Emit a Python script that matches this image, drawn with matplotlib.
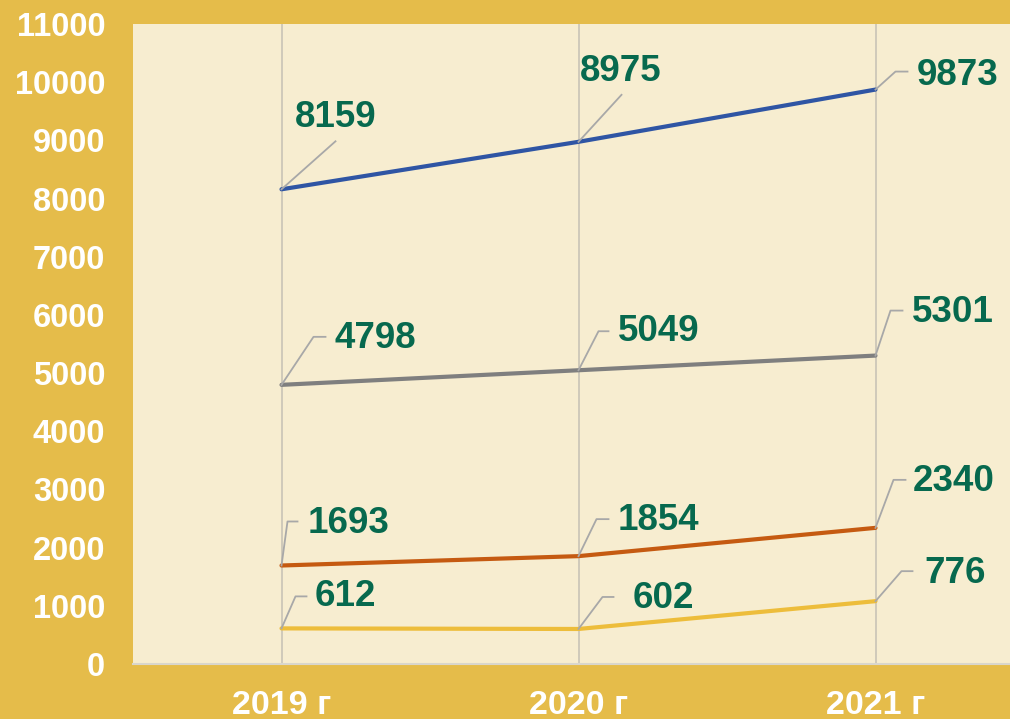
import matplotlib
matplotlib.use("Agg")
import matplotlib.pyplot as plt

years = ["2019 г", "2020 г", "2021 г"]
y_ticks = [0, 1000, 2000, 3000, 4000, 5000, 6000, 7000, 8000, 9000, 10000, 11000]

blue_values = [8159, 8975, 9873]
gray_values = [4798, 5049, 5301]
orange_values = [1693, 1854, 2340]
# yellow line as drawn in the picture (2021 point sits near 1080)
yellow_values = [612, 602, 1080]

blue_labels = ["8159", "8975", "9873"]
gray_labels = ["4798", "5049", "5301"]
orange_labels = ["1693", "1854", "2340"]
yellow_labels = ["612", "602", "776"]

plt.rcParams['font.family'] = ['Liberation Sans', 'DejaVu Sans']

W, H = 1010, 719
fig = plt.figure(figsize=(W / 100, H / 100), dpi=100)
fig.patch.set_facecolor("#E5BC4A")

left_px, top_px, bottom_px = 133, 24, 664
x_step = 297.0
ax_w_px = 3 * x_step
ax = fig.add_axes([left_px / W, (H - bottom_px) / H, ax_w_px / W, (bottom_px - top_px) / H])
ax.set_facecolor("#F7EDD0")
ax.set_xlim(-0.5, 2.5)
ax.set_ylim(0, 11000)

x = list(range(len(years)))

for xi in x:
    ax.axvline(xi, color="#C9C4B6", lw=1.2, zorder=1)

series = [
    (blue_values, blue_labels, "#2F55A4"),
    (gray_values, gray_labels, "#7F7F7F"),
    (orange_values, orange_labels, "#C55A11"),
    (yellow_values, yellow_labels, "#EDBD3B"),
]
for vals, _, col in series:
    ax.plot(x, vals, color=col, lw=3.0, zorder=3, solid_capstyle="round")

for s in ["top", "right", "left"]:
    ax.spines[s].set_visible(False)
ax.spines["bottom"].set_color("#D9D6CC")
ax.spines["bottom"].set_linewidth(1.5)

ax.set_yticks(y_ticks)
ax.set_yticklabels([str(t) for t in y_ticks], fontsize=23.5, fontweight="bold", color="white")
ax.set_xticks(x)
ax.set_xticklabels(years, fontsize=24.5, fontweight="bold", color="white")
ax.tick_params(axis="y", length=0, pad=20)
ax.tick_params(axis="x", length=0, pad=18.5)

# leader geometry in pixel offsets: (elbow dx, elbow dy, end dx, end dy, text dx, text dy)
leaders = {
    ("blue", 0): (54, 48, 54, 48, 13, 72),
    ("blue", 1): (43, 47, 43, 47, 1, 70),
    ("blue", 2): (20, 18, 32, 18, 41, 14),
    ("gray", 0): (32, 48, 44, 48, 53, 46),
    ("gray", 1): (20, 39, 30, 39, 39, 39),
    ("gray", 2): (15, 45, 27, 45, 36, 43),
    ("orange", 0): (6, 44, 16, 44, 26, 42),
    ("orange", 1): (18, 37, 30, 37, 39, 36),
    ("orange", 2): (18, 48, 30, 48, 37, 46),
    ("yellow", 0): (14, 32, 25, 32, 33, 32),
    ("yellow", 1): (24, 32, 35, 32, 54, 30),
    ("yellow", 2): (26, 30, 37, 30, 49, 28),
}
names = ["blue", "gray", "orange", "yellow"]

fig.canvas.draw()
for name, (vals, labs, col) in zip(names, series):
    for i, (v, lab) in enumerate(zip(vals, labs)):
        ex, ey, lx, ly, tx, ty = leaders[(name, i)]
        px, py = ax.transData.transform((x[i], v))
        xs = [px, px + ex, px + lx]
        ys = [py, py + ey, py + ly]
        line = plt.Line2D(xs, ys, transform=None, color="#A8A8A8", lw=1.3, zorder=4)
        fig.add_artist(line)
        fig.text((px + tx) / W, (py + ty) / H, lab, fontsize=26.5, fontweight="bold",
                 color="#07694E", ha="left", va="center", zorder=5)

fig.savefig("out.png", dpi=100, facecolor=fig.get_facecolor())
